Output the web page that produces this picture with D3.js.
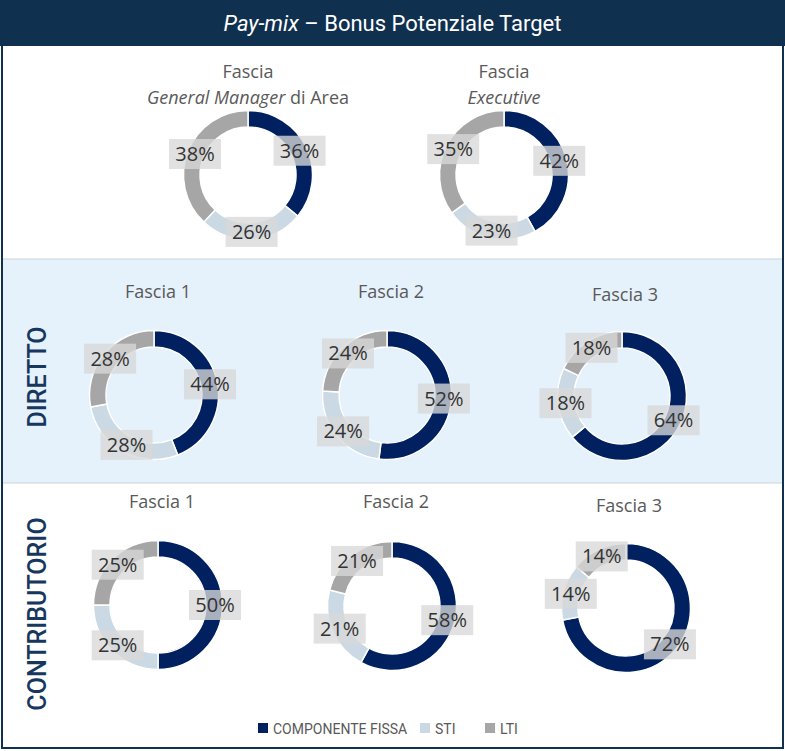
<!DOCTYPE html>
<html>
<head>
<meta charset="utf-8">
<script src="https://cdn.jsdelivr.net/npm/d3@7"></script>
<style>
  body { margin: 0; background: #fff; }
  svg { display: block; }
</style>
</head>
<body>
<div id="chart"></div>
<script>
// data
const components = ["COMPONENTE FISSA", "STI", "LTI"];
const colors = ["#002060", "#cad9e3", "#a6a6a6"];

const gmArea = [36, 26, 38];
const executive = [42, 23, 35];
const direttoF1 = [44, 28, 28];
const direttoF2 = [52, 24, 24];
const direttoF3 = [64, 18, 18];
const contribF1 = [50, 25, 25];
const contribF2 = [58, 21, 21];
const contribF3 = [72, 14, 14];

const rowLabels = ["DIRETTO", "CONTRIBUTORIO"];

// layout of the donuts (centres + title placement)
const charts = [
  { values: gmArea,    cx: 248, cy: 175, title: [["Fascia"], [["General Manager", true], [" di Area", false]]], ty: 72 },
  { values: executive, cx: 504, cy: 175, title: [["Fascia"], [["Executive", true]]], ty: 72 },
  { values: direttoF1, cx: 154, cy: 395, title: [["Fascia  1"]], ty: 292, tx: 158 },
  { values: direttoF2, cx: 387, cy: 395, title: [["Fascia  2"]], ty: 292, tx: 391 },
  { values: direttoF3, cx: 622, cy: 396, title: [["Fascia  3"]], ty: 295, tx: 625 },
  { values: contribF1, cx: 158, cy: 605, title: [["Fascia  1"]], ty: 502, tx: 162 },
  { values: contribF2, cx: 392, cy: 606, title: [["Fascia  2"]], ty: 502, tx: 396 },
  { values: contribF3, cx: 626, cy: 608, title: [["Fascia  3"]], ty: 506, tx: 629 }
];

const width = 785, height = 751;
const svg = d3.select("#chart").append("svg")
  .attr("width", width)
  .attr("height", height);

const narrow = "'Liberation Sans Narrow', 'Roboto', sans-serif";
const labelFont = "'Open Sans', 'Noto Sans', sans-serif";

// background bands
svg.append("rect").attr("x", 0).attr("y", 0).attr("width", width).attr("height", height).attr("fill", "#fff");
svg.append("rect")
  .attr("x", 3).attr("y", 259).attr("width", width - 6).attr("height", 224)
  .attr("fill", "#e5f1fb");
[259, 483].forEach(y => {
  svg.append("line")
    .attr("x1", 3).attr("x2", width - 3).attr("y1", y).attr("y2", y)
    .attr("stroke", "#c9d3dc").attr("stroke-width", 1.2);
});

// title bar
svg.append("rect").attr("x", 0).attr("y", 0).attr("width", width).attr("height", 46).attr("fill", "#10304f");
const title = svg.append("text")
  .attr("x", width / 2).attr("y", 31)
  .attr("text-anchor", "middle")
  .attr("fill", "#fff")
  .style("font-family", narrow)
  .style("font-size", "22px");
title.append("tspan").style("font-style", "italic").text("Pay-mix");
title.append("tspan").text(" \u2013 Bonus Potenziale Target");

// frame
svg.append("rect")
  .attr("x", 2).attr("y", 1).attr("width", width - 4).attr("height", height - 4)
  .attr("fill", "none").attr("stroke", "#10304f").attr("stroke-width", 2);

// row labels
const rowY = [377, 614];
rowLabels.forEach((lab, i) => {
  svg.append("text")
    .attr("transform", `translate(46, ${rowY[i]}) rotate(-90)`)
    .attr("text-anchor", "middle")
    .attr("fill", "#17375e")
    .style("font-family", narrow)
    .style("font-weight", "500")
    .style("font-size", "25px")
    .text(lab);
});

// donuts
const pie = d3.pie().sort(null).value(d => d);
const arc = d3.arc().innerRadius(48).outerRadius(64.5);
const labelArc = d3.arc().innerRadius(57).outerRadius(57);

charts.forEach(c => {
  const g = svg.append("g").attr("transform", `translate(${c.cx}, ${c.cy})`);
  const arcs = pie(c.values);

  g.selectAll("path")
    .data(arcs)
    .join("path")
    .attr("d", arc)
    .attr("fill", (d, i) => colors[i])
    .attr("stroke", "#fff")
    .attr("stroke-width", 1.5);

  // title
  const tx = c.tx !== undefined ? c.tx : c.cx;
  c.title.forEach((line, li) => {
    const t = svg.append("text")
      .attr("x", tx).attr("y", c.ty + li * 26 + 6)
      .attr("text-anchor", "middle")
      .attr("fill", "#595959")
      .style("font-family", labelFont)
      .style("font-size", "18px");
    line.forEach(part => {
      if (typeof part === "string") t.append("tspan").text(part);
      else t.append("tspan").style("font-style", part[1] ? "italic" : "normal").text(part[0]);
    });
  });

  // labels
  const lab = g.selectAll("g.lab")
    .data(arcs)
    .join("g")
    .attr("class", "lab")
    .attr("transform", d => {
      const p = labelArc.centroid(d);
      return `translate(${p[0]}, ${p[1]})`;
    });
  lab.append("rect")
    .attr("x", -26).attr("y", -15).attr("width", 52).attr("height", 30)
    .attr("fill", "#d9d9d9").attr("fill-opacity", 0.78);
  lab.append("text")
    .attr("text-anchor", "middle")
    .attr("y", 7)
    .attr("fill", "#333")
    .style("font-family", labelFont)
    .style("font-size", "20px")
    .text(d => d.data + "%");
});

// legend
const legendX = [258, 420, 485];
const legend = svg.selectAll("g.legend")
  .data(components)
  .join("g")
  .attr("class", "legend")
  .attr("transform", (d, i) => `translate(${legendX[i]}, 723)`);
legend.append("rect")
  .attr("width", 10).attr("height", 10)
  .attr("fill", (d, i) => colors[i]);
legend.append("text")
  .attr("x", 15).attr("y", 11)
  .attr("fill", "#595959")
  .style("font-family", narrow)
  .style("font-size", "14px")
  .text(d => d);
</script>
</body>
</html>
